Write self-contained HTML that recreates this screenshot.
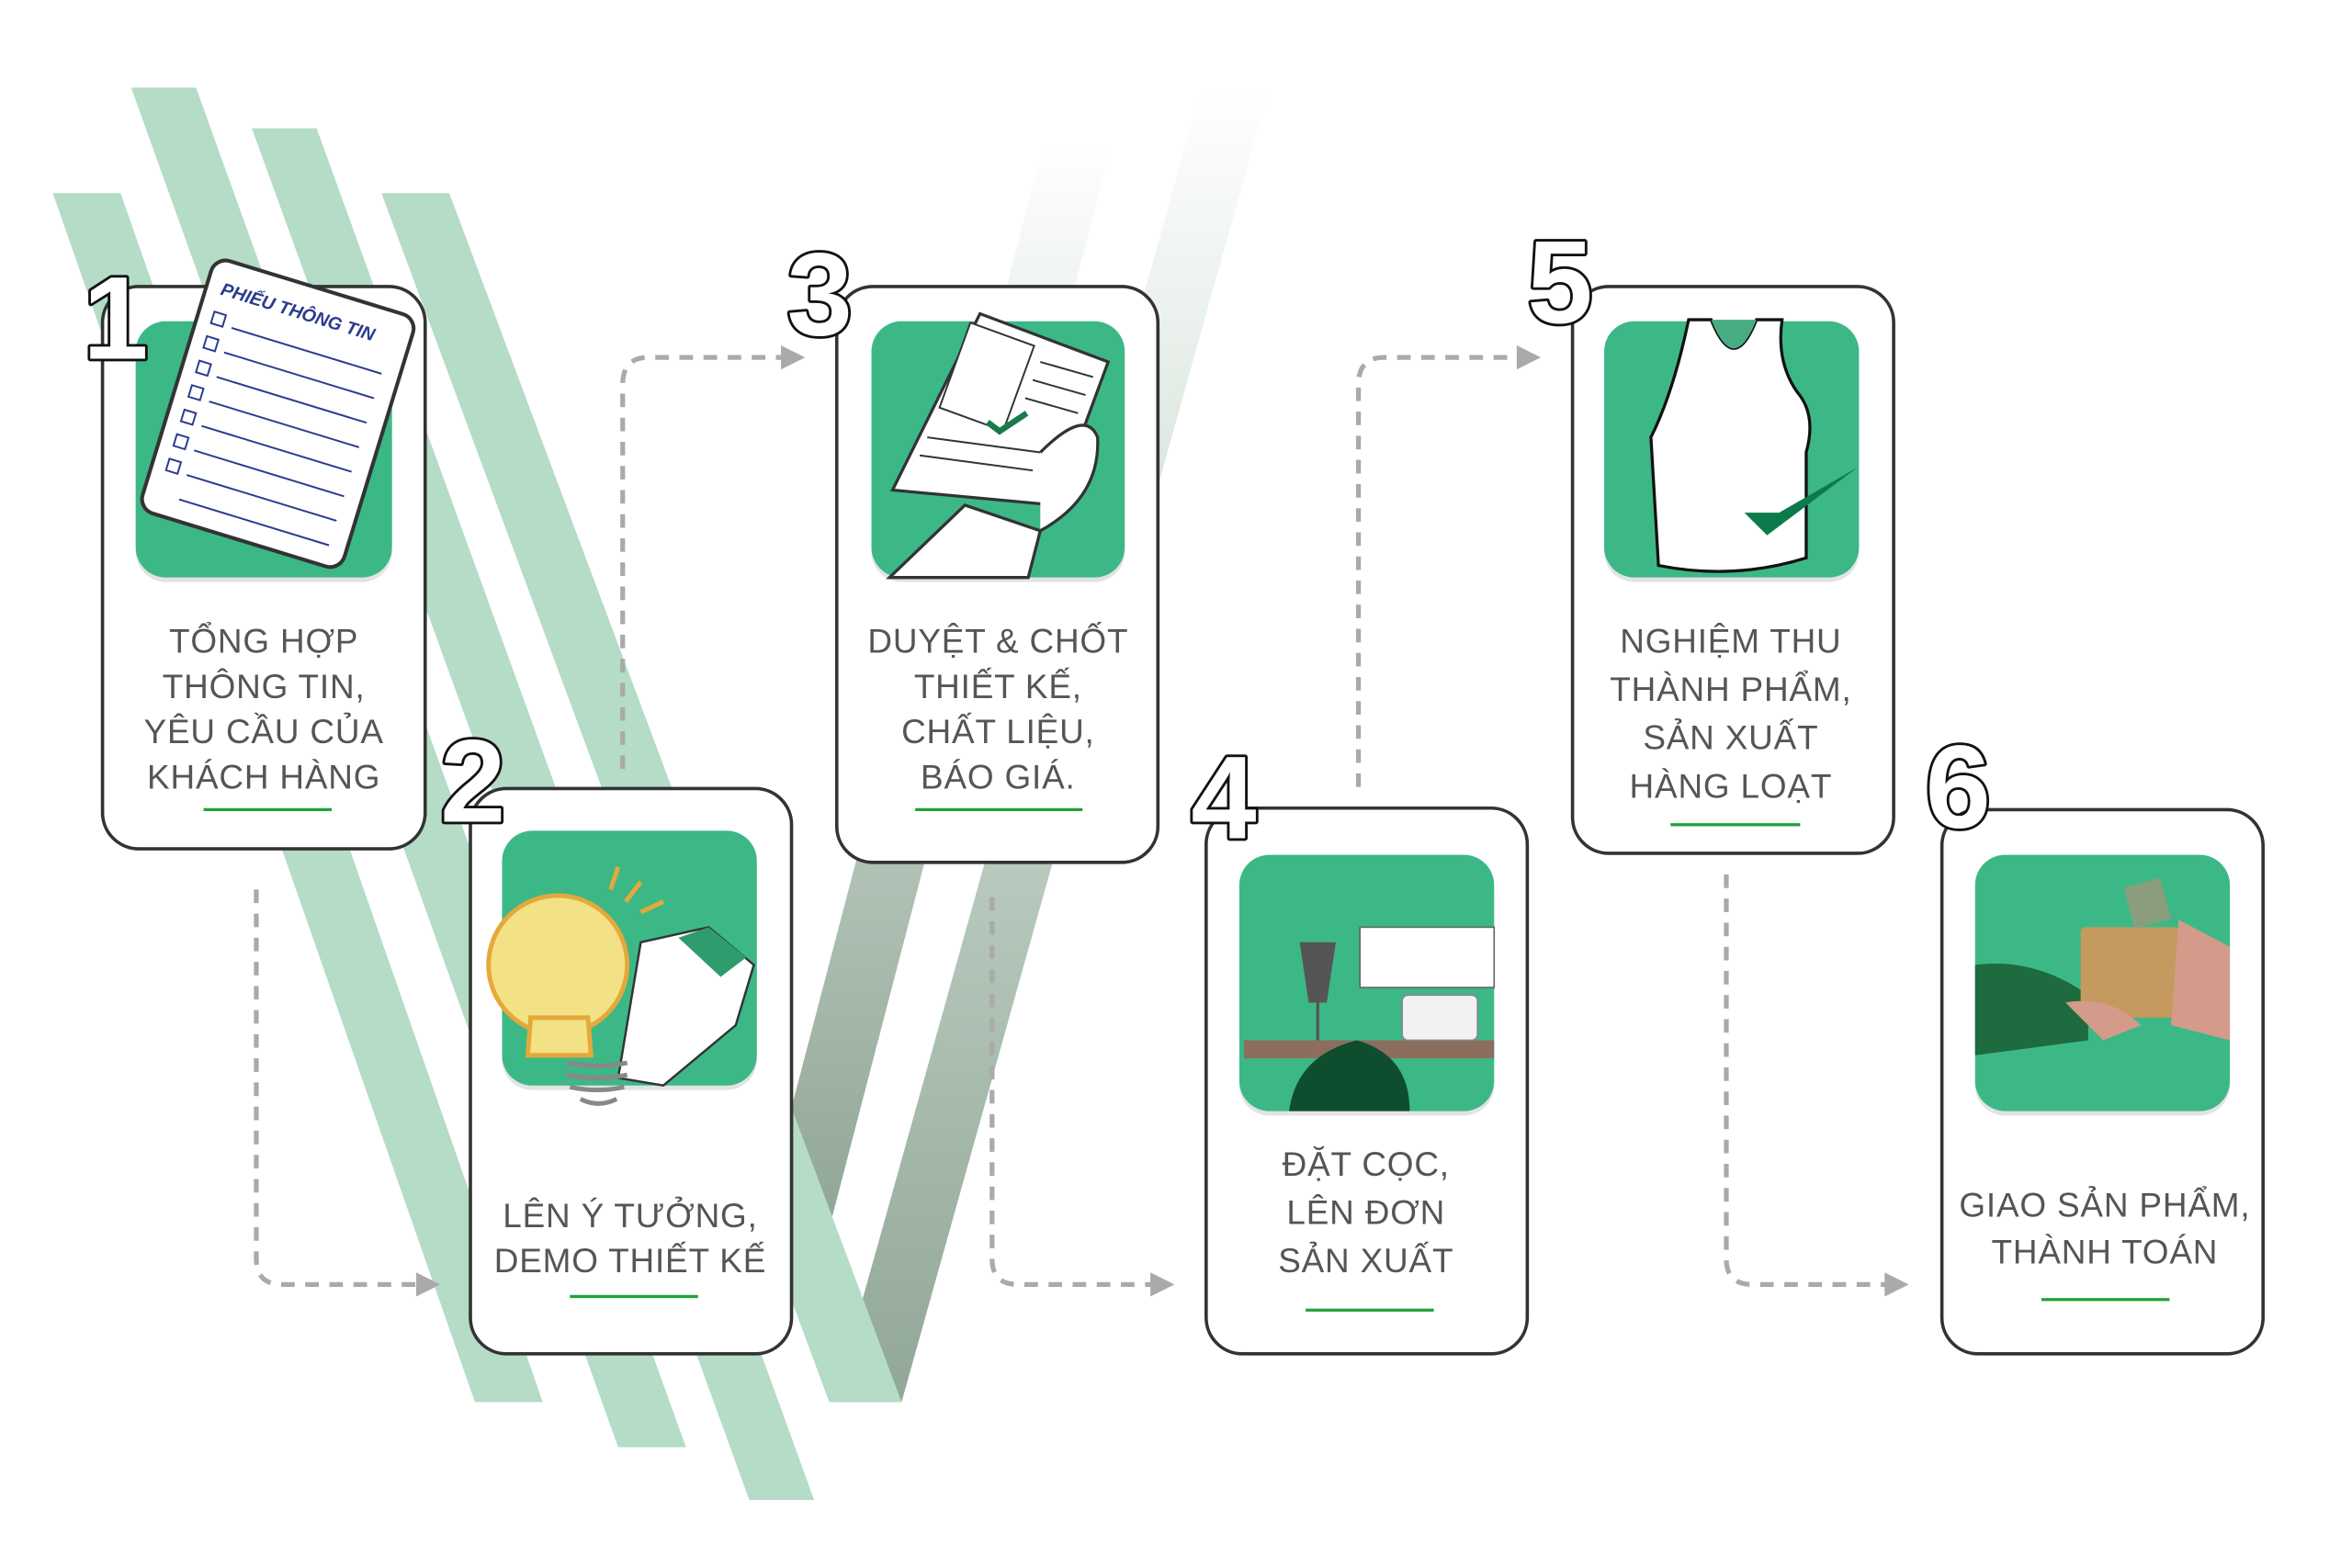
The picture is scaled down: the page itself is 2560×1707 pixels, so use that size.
<!DOCTYPE html>
<html><head><meta charset="utf-8"><style>
html,body{margin:0;padding:0;background:#fff;width:2560px;height:1707px;overflow:hidden}
svg{display:block}
.t{font-family:"Liberation Sans","DejaVu Sans",sans-serif;font-size:22.5px;fill:#555;text-anchor:middle;letter-spacing:0.5px}
.n{font-family:"Liberation Sans",sans-serif;font-weight:bold;font-size:78px;fill:#fff;stroke:#111;stroke-width:3.5;paint-order:stroke;stroke-linejoin:round}
.card{fill:#fff;stroke:#333;stroke-width:2.2}
.gb{fill:#3cb887}
.dash{fill:none;stroke:#aaa;stroke-width:3.2;stroke-dasharray:9 7}
.ul{stroke:#1fa33a;stroke-width:2}
</style></head><body>
<svg width="2560" height="1707" viewBox="0 0 1560 1040" xmlns="http://www.w3.org/2000/svg">
<defs>
<linearGradient id="g1" gradientUnits="userSpaceOnUse" x1="0" y1="930" x2="0" y2="58"><stop offset="0" stop-color="#91a797"/><stop offset="0.45" stop-color="#bccdc1"/><stop offset="0.8" stop-color="#e8efea"/><stop offset="1" stop-color="#fff"/></linearGradient>
<linearGradient id="g2" gradientUnits="userSpaceOnUse" x1="0" y1="830" x2="0" y2="93"><stop offset="0" stop-color="#8fa494"/><stop offset="0.5" stop-color="#bfcfc4"/><stop offset="0.85" stop-color="#eef3ef"/><stop offset="1" stop-color="#fff"/></linearGradient>
</defs>
<!-- gray gradient arms -->
<polygon points="500,830 546,830 738,93 693,93" fill="url(#g2)"/>
<polygon points="553,930 598,930 842,58 797,58" fill="url(#g1)"/>
<!-- green stripes -->
<g fill="#b5dcc6">
<polygon points="35,128 80,128 360,930 315,930"/>
<polygon points="87,58 130,58 455,960 410,960"/>
<polygon points="167,85 210,85 540,995 497,995"/>
<polygon points="253,128 298,128 598,930 550,930"/>
</g>
<!-- dashed connectors -->
<g class="dash">
<path d="M170,590 V835 Q170,852 187,852 H278"/>
<path d="M413,510 V255 Q413,237 430,237 H520"/>
<path d="M658,595 V835 Q658,852 675,852 H765"/>
<path d="M901,522 V255 Q901,237 918,237 H1008"/>
<path d="M1145,580 V835 Q1145,852 1162,852 H1252"/>
</g>
<g fill="#aaa">
<polygon points="276,844 292,852 276,860"/>
<polygon points="518,229 534,237 518,245"/>
<polygon points="763,844 779,852 763,860"/>
<polygon points="1006,229 1022,237 1006,245"/>
<polygon points="1250,844 1266,852 1250,860"/>
</g>
<!-- cards -->
<rect class="card" x="68" y="190" width="214" height="373" rx="24"/>
<rect class="card" x="312" y="523" width="213" height="375" rx="24"/>
<rect class="card" x="555" y="190" width="213" height="382" rx="24"/>
<rect class="card" x="800" y="536" width="213" height="362" rx="24"/>
<rect class="card" x="1043" y="190" width="213" height="376" rx="24"/>
<rect class="card" x="1288" y="537" width="213" height="361" rx="24"/>
<!-- green boxes with shadow -->
<g>
<rect x="90" y="216" width="170" height="170" rx="20" fill="#e3e3e3"/><rect class="gb" x="90" y="213" width="170" height="170" rx="20"/>
<rect x="333" y="554" width="169" height="169" rx="20" fill="#e3e3e3"/><rect class="gb" x="333" y="551" width="169" height="169" rx="20"/>
<rect x="578" y="216" width="168" height="170" rx="20" fill="#e3e3e3"/><rect class="gb" x="578" y="213" width="168" height="170" rx="20"/>
<rect x="822" y="570" width="169" height="170" rx="20" fill="#e3e3e3"/><rect class="gb" x="822" y="567" width="169" height="170" rx="20"/>
<rect x="1064" y="216" width="169" height="170" rx="20" fill="#e3e3e3"/><rect class="gb" x="1064" y="213" width="169" height="170" rx="20"/>
<rect x="1310" y="570" width="169" height="170" rx="20" fill="#e3e3e3"/><rect class="gb" x="1310" y="567" width="169" height="170" rx="20"/>
</g>
<!-- illus 1: form -->
<g transform="translate(185,272) rotate(17)">
<rect x="-70" y="-85" width="140" height="175" rx="10" fill="#fff" stroke="#333" stroke-width="2.5"/>
<text x="-60" y="-62" font-family="Liberation Sans,sans-serif" font-weight="bold" font-style="italic" font-size="12" fill="#2a3b8f">PHIẾU THÔNG TIN</text>
<g stroke="#2a3b8f" stroke-width="1.2" fill="none">
<rect x="-60" y="-50" width="8" height="8"/><line x1="-46" y1="-43" x2="58" y2="-43"/>
<rect x="-60" y="-33" width="8" height="8"/><line x1="-46" y1="-26" x2="58" y2="-26"/>
<rect x="-60" y="-16" width="8" height="8"/><line x1="-46" y1="-9" x2="58" y2="-9"/>
<rect x="-60" y="1" width="8" height="8"/><line x1="-46" y1="8" x2="58" y2="8"/>
<rect x="-60" y="18" width="8" height="8"/><line x1="-46" y1="25" x2="58" y2="25"/>
<rect x="-60" y="35" width="8" height="8"/><line x1="-46" y1="42" x2="58" y2="42"/>
<rect x="-60" y="52" width="8" height="8"/><line x1="-46" y1="59" x2="58" y2="59"/>
<line x1="-46" y1="76" x2="58" y2="76"/>
</g></g>
<!-- illus 2: bulb + shirt -->
<path d="M425,625 L470,615 L500,640 L488,680 L440,720 L410,715 Z" fill="#fff" stroke="#333" stroke-width="1.5"/>
<path d="M450,622 L470,615 L495,635 L478,648 Z" fill="#2e9c6d"/>
<circle cx="370" cy="640" r="46" fill="#f2e185" stroke="#e5a83a" stroke-width="3"/>
<path d="M352,675 L390,675 L392,700 L350,700 Z" fill="#f2e185" stroke="#e5a83a" stroke-width="3"/>
<g stroke="#888" stroke-width="3" fill="none"><path d="M376,705 q20,4 40,0"/><path d="M376,713 q20,4 40,0"/><path d="M378,721 q18,4 36,0"/><path d="M385,729 q12,6 24,0"/></g>
<g stroke="#e5a83a" stroke-width="3"><line x1="405" y1="590" x2="410" y2="575"/><line x1="415" y1="598" x2="425" y2="585"/><line x1="425" y1="605" x2="440" y2="598"/></g>
<!-- illus 3: doc + hand -->
<polygon points="650,208 735,240 700,335 592,325" fill="#fff" stroke="#333" stroke-width="2"/>
<rect x="632" y="220" width="45" height="60" fill="#fff" stroke="#333" stroke-width="1.2" transform="rotate(20 655 250)"/>
<g stroke="#333" stroke-width="1.2"><line x1="690" y1="240" x2="725" y2="250"/><line x1="685" y1="252" x2="720" y2="262"/><line x1="680" y1="264" x2="715" y2="274"/><line x1="615" y1="290" x2="690" y2="300"/><line x1="610" y1="302" x2="685" y2="312"/></g>
<path d="M655,280 l8,6 l18,-12" stroke="#1a7a4a" stroke-width="4" fill="none"/>
<path d="M590,383 L640,335 L690,352 L682,383 Z" fill="#fff" stroke="#333" stroke-width="2"/>
<path d="M690,300 Q720,270 728,290 Q730,330 690,352" fill="#fff" stroke="#333" stroke-width="2"/>
<!-- illus 4: workshop -->
<rect x="902" y="615" width="89" height="40" fill="#fff" stroke="#666" stroke-width="1"/>
<rect x="825" y="690" width="166" height="12" fill="#8b6e5e"/>
<path d="M862,625 L886,625 L880,665 L868,665 Z" fill="#555"/><line x1="874" y1="665" x2="874" y2="690" stroke="#555" stroke-width="2"/>
<rect x="930" y="660" width="50" height="30" rx="4" fill="#f2f2f2" stroke="#888"/>
<path d="M855,737 Q860,700 900,690 Q935,700 935,737 Z" fill="#0f4d2f"/>
<!-- illus 5: tank top -->
<path d="M1120,212 L1135,212 Q1150,250 1165,212 L1182,212 Q1178,240 1192,260 Q1205,275 1198,300 L1198,370 Q1150,385 1100,375 L1095,290 Q1110,260 1120,212 Z" fill="#fff" stroke="#111" stroke-width="2"/>
<path d="M1135,212 Q1150,250 1165,212 Z" fill="#47ac82"/>
<path d="M1157,340 l15,15 l60,-45 l-52,30 Z" fill="#0c7a4a"/>
<!-- illus 6: handover -->
<path d="M1310,640 Q1350,635 1385,660 L1385,690 L1310,700 Z" fill="#1d6b3e"/>
<rect x="1380" y="615" width="65" height="60" rx="3" fill="#c49a5e"/>
<path d="M1445,610 L1479,628 L1479,690 L1440,680 Z" fill="#d49a8a"/>
<path d="M1370,665 Q1400,660 1420,680 L1395,690 Z" fill="#d49a8a"/>
<rect x="1412" y="585" width="25" height="28" fill="#8a9e7e" transform="rotate(-15 1425 600)"/>
<!-- numbers -->
<text class="n" x="55" y="238">1</text>
<text class="n" x="292" y="545">2</text>
<text class="n" x="522" y="222">3</text>
<text class="n" x="790" y="556">4</text>
<text class="n" x="1013" y="214">5</text>
<text class="n" x="1277" y="549">6</text>
<!-- texts -->
<g class="t">
<text x="175" y="433">TỔNG HỢP</text><text x="175" y="463">THÔNG TIN,</text><text x="175" y="493">YÊU CẦU CỦA</text><text x="175" y="523">KHÁCH HÀNG</text>
<text x="418" y="814">LÊN Ý TƯỞNG,</text><text x="418" y="844">DEMO THIẾT KẾ</text>
<text x="662" y="433">DUYỆT &amp; CHỐT</text><text x="662" y="463">THIẾT KẾ,</text><text x="662" y="493">CHẤT LIỆU,</text><text x="662" y="523">BÁO GIÁ.</text>
<text x="906" y="780">ĐẶT CỌC,</text><text x="906" y="812">LÊN ĐƠN</text><text x="906" y="844">SẢN XUẤT</text>
<text x="1148" y="433">NGHIỆM THU</text><text x="1148" y="465">THÀNH PHẨM,</text><text x="1148" y="497">SẢN XUẤT</text><text x="1148" y="529">HÀNG LOẠT</text>
<text x="1396" y="807">GIAO SẢN PHẨM,</text><text x="1396" y="838">THÀNH TOÁN</text>
</g>
<g class="ul">
<line x1="135" y1="537" x2="220" y2="537"/><line x1="378" y1="860" x2="463" y2="860"/><line x1="607" y1="537" x2="718" y2="537"/>
<line x1="866" y1="869" x2="951" y2="869"/><line x1="1108" y1="547" x2="1194" y2="547"/><line x1="1354" y1="862" x2="1439" y2="862"/>
</g>
</svg>
</body></html>
